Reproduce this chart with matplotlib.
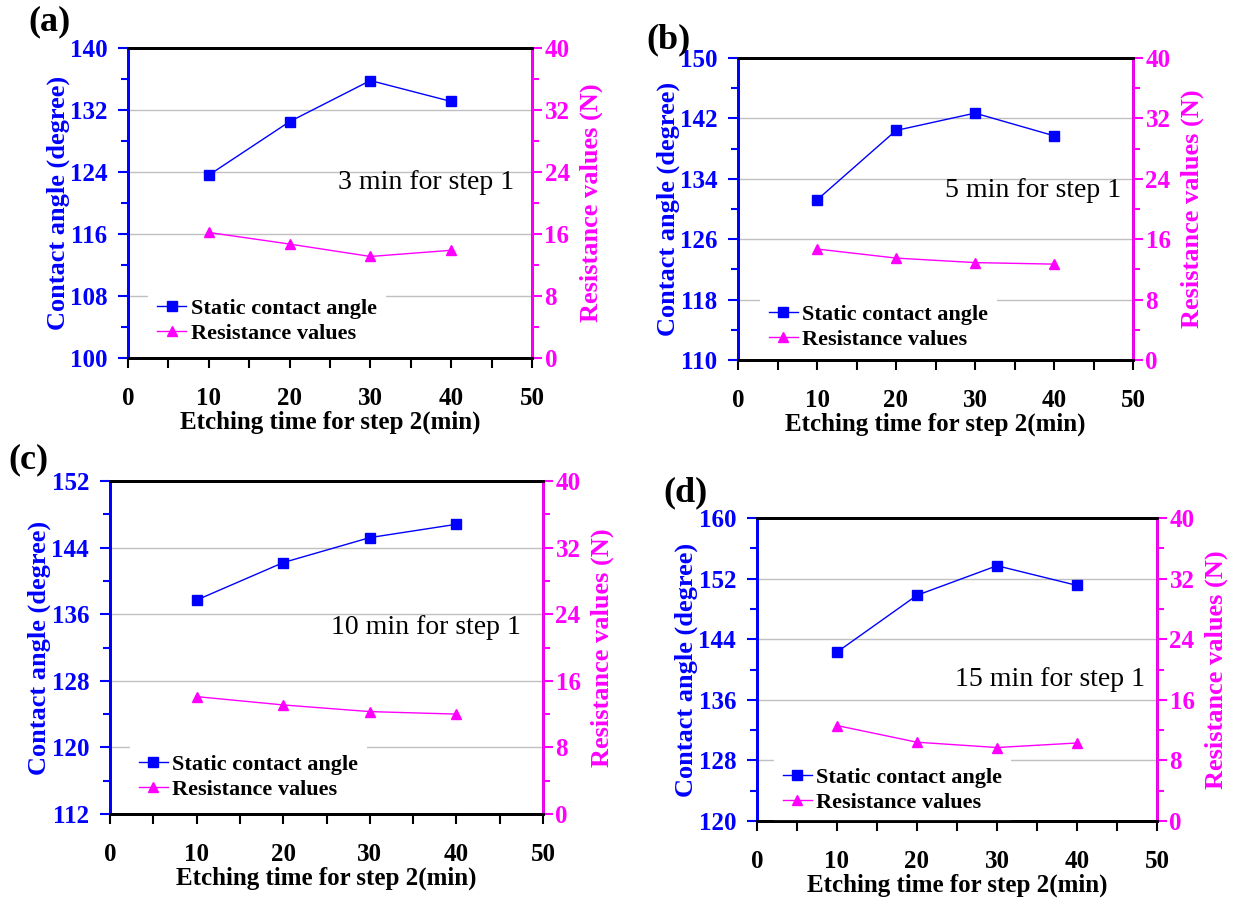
import matplotlib
matplotlib.use('Agg')
import matplotlib.pyplot as plt
from matplotlib.ticker import MultipleLocator

# -----------------------------------------------------------------------------
# data

etch_time = [10, 20, 30, 40]

angle_a = [123.6, 130.5, 135.8, 133.1]
angle_b = [131.2, 140.4, 142.7, 139.7]
angle_c = [137.7, 142.2, 145.2, 146.8]
angle_d = [142.3, 149.8, 153.7, 151.1]

resist_a = [16.2, 14.7, 13.1, 13.9]
resist_b = [14.7, 13.5, 12.9, 12.7]
resist_c = [14.1, 13.1, 12.3, 12.0]
resist_d = [12.6, 10.4, 9.7, 10.3]

panel_labels = ['(a)', '(b)', '(c)', '(d)']
step1_notes = ['3 min for step 1', '5 min for step 1',
               '10 min for step 1', '15 min for step 1']
angle_limits = [(100, 140), (110, 150), (112, 152), (120, 160)]

# -----------------------------------------------------------------------------
# layout (pixels in a 1233x898 figure)

W, H = 1233, 898
rects = [(128, 48, 532, 358), (738, 58, 1133, 360),
         (110, 481, 543, 814), (757, 518, 1157, 821)]
label_pos = [(28, 22), (646, 40), (8, 460), (663, 493)]
note_pos = [(0.52, 0.565), (0.525, 0.56), (0.51, 0.56), (0.495, 0.467)]
legend_pos = [(0.023, -0.02), (0.027, -0.032), (0.02, -0.018), (0.015, -0.04)]

BLUE = '#0000ff'
MAG = '#ff00ff'
SERIF = ['Liberation Serif', 'DejaVu Serif']

plt.rcParams['font.family'] = SERIF

fig = plt.figure(figsize=(W / 100, H / 100), dpi=100)

panels = zip(rects, panel_labels, step1_notes, angle_limits,
             [angle_a, angle_b, angle_c, angle_d],
             [resist_a, resist_b, resist_c, resist_d],
             label_pos, note_pos, legend_pos)

for (x0, y0, x1, y1), plab, note, ylim, ang, res, lp, npos, lgp in panels:
    ax = fig.add_axes([x0 / W, 1 - y1 / H, (x1 - x0) / W, (y1 - y0) / H])
    ax2 = ax.twinx()

    l1, = ax.plot(etch_time, ang, '-s', color=BLUE, lw=1, ms=6.5,
                  label='Static contact angle')
    l2, = ax2.plot(etch_time, res, '-^', color=MAG, lw=1, ms=6.5,
                   label='Resistance values')

    ax.set_xlim(0, 50)
    ax.set_ylim(*ylim)
    ax2.set_ylim(0, 40)
    ax.xaxis.set_major_locator(MultipleLocator(10))
    ax.xaxis.set_minor_locator(MultipleLocator(5))
    ax.set_yticks(range(ylim[0], ylim[1] + 1, 8))
    ax.set_yticks(range(ylim[0], ylim[1] + 1, 4), minor=True)
    ax2.set_yticks(range(0, 41, 8))
    ax2.set_yticks(range(0, 41, 4), minor=True)

    ax.grid(axis='y', which='major', color='#c0c0c0', lw=1)
    ax.set_axisbelow(True)

    ax.spines['left'].set_color(BLUE)
    ax2.spines['left'].set_color(BLUE)
    ax2.spines['right'].set_color(MAG)
    for sp in ['left', 'right', 'top', 'bottom']:
        ax2.spines[sp].set_linewidth(2)
        ax.spines[sp].set_linewidth(2)

    ax.tick_params(axis='x', which='both', direction='out', length=7,
                   width=1.5, pad=14, labelsize=18, labelcolor='black')
    ax.tick_params(axis='y', which='both', direction='out', width=1.5,
                   color=BLUE, labelcolor=BLUE, labelsize=18, pad=8)
    ax.tick_params(axis='y', which='major', length=7)
    ax.tick_params(axis='y', which='minor', length=5)
    ax2.tick_params(axis='y', which='both', direction='out', width=1.5,
                    color=MAG, labelcolor=MAG, labelsize=18, pad=2)
    ax2.tick_params(axis='y', which='major', length=7)
    ax2.tick_params(axis='y', which='minor', length=5)
    for t in ax.get_xticklabels() + ax.get_yticklabels() + ax2.get_yticklabels():
        t.set_fontweight('bold')

    ax.set_xlabel('Etching time for step 2(min)', fontsize=18,
                  fontweight='bold', labelpad=0)
    ax.set_ylabel('Contact angle (degree)', fontsize=19, fontweight='bold',
                  color=BLUE, labelpad=0)
    ax2.set_ylabel('Resistance values (N)', fontsize=19, fontweight='bold',
                   color=MAG, labelpad=7)

    ax2.text(npos[0], npos[1], note, transform=ax.transAxes, fontsize=20,
             va='center', ha='left')

    leg = ax2.legend([l1, l2], [l1.get_label(), l2.get_label()],
                     loc='lower left', bbox_to_anchor=lgp, frameon=True,
                     fancybox=False, edgecolor='none', framealpha=1,
                     handlelength=1.3, handletextpad=0.2, labelspacing=0.2,
                     borderpad=0.4, prop={'family': SERIF, 'weight': 'bold',
                                          'size': 16})
    leg.set_zorder(2.2)

    fig.text(lp[0] / W, 1 - lp[1] / H, plab, fontsize=26, fontweight='bold',
             va='center', ha='left')

fig.savefig('out.png', dpi=100)
